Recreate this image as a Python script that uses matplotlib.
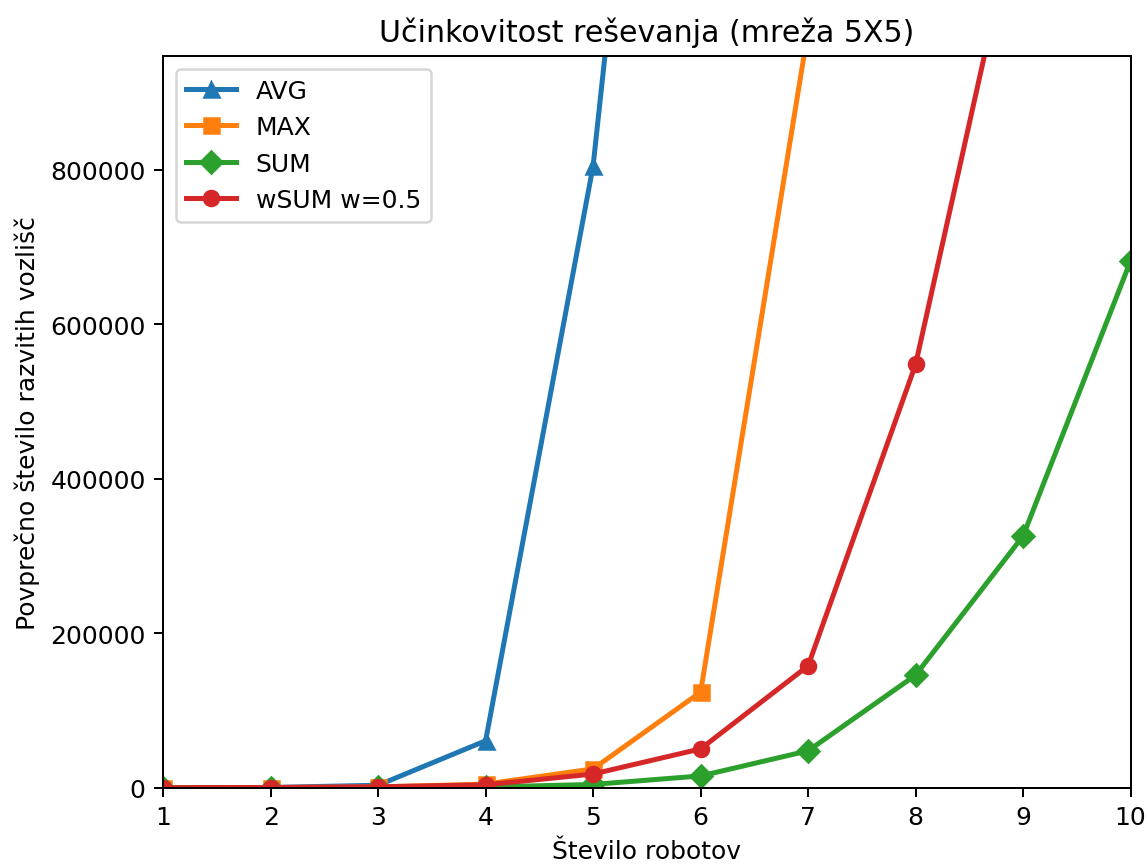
import matplotlib
matplotlib.use("Agg")
import matplotlib.pyplot as plt

robots = [1, 2, 3, 4, 5, 6, 7, 8, 9, 10]
avg_vals = [300, 600, 3500, 61000, 805000, 2100000]
max_vals = [300, 500, 1200, 5000, 24600, 124000, 980000]
sum_vals = [200, 300, 600, 1200, 4500, 15500, 48000, 146000, 326000, 682000]
wsum_vals = [300, 500, 1500, 4000, 18000, 50500, 158000, 548000, 1172000]

fig, ax = plt.subplots(figsize=(6.383, 4.811), dpi=180)
ax.plot(robots[:len(avg_vals)], avg_vals, marker='^', lw=2, label='AVG')
ax.plot(robots[:len(max_vals)], max_vals, marker='s', lw=2, label='MAX')
ax.plot(robots[:len(sum_vals)], sum_vals, marker='D', lw=2, label='SUM')
ax.plot(robots[:len(wsum_vals)], wsum_vals, marker='o', lw=2, label='wSUM w=0.5')
ax.set_xlim(1, 10)
ax.set_ylim(0, 947000)
ax.set_xticks(robots)
ax.set_title('Učinkovitost reševanja (mreža 5X5)')
ax.set_xlabel('Število robotov')
ax.set_ylabel('Povprečno število razvitih vozlišč')
ax.legend(loc='upper left')
fig.subplots_adjust(left=0.142, right=0.984, top=0.934, bottom=0.089)
fig.savefig('out.png', dpi=180)
